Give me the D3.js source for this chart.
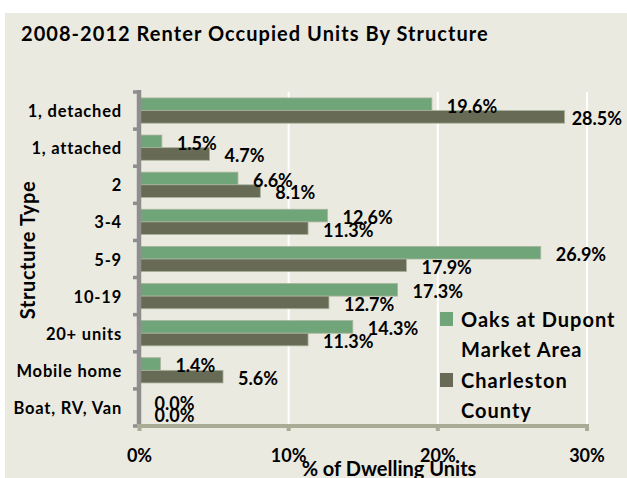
<!DOCTYPE html>
<html><head><meta charset="utf-8">
<script src="https://cdn.jsdelivr.net/npm/d3@7"></script>
<style>
body{margin:0;background:#fff}
svg{display:block}
text{font-family:Lato,"Open Sans",sans-serif;font-weight:bold;fill:#000}
</style></head>
<body><svg id="c" width="627" height="478"></svg>
<script>
const title = "2008-2012 Renter Occupied Units By Structure";
const categories = ["1, detached","1, attached","2","3-4","5-9","10-19","20+ units","Mobile home","Boat, RV, Van"];
const seriesNames = ["Oaks at Dupont Market Area","Charleston County"];
const legendLines = [["Oaks at Dupont","Market Area"],["Charleston","County"]];
const oaksValues = [19.6,1.5,6.6,12.6,26.9,17.3,14.3,1.4,0.0];
const charlestonValues = [28.5,4.7,8.1,11.3,17.9,12.7,11.3,5.6,0.0];
const xTicks = [0,10,20,30];
const xTitle = "% of Dwelling Units";
const yTitle = "Structure Type";

const colors = ["#70a57a","#676a54"];
const svg = d3.select("#c");
const W = 627, H = 478;

svg.append("rect").attr("x",0).attr("y",0).attr("width",W).attr("height",H).attr("fill","#fff");
svg.append("rect").attr("x",5).attr("y",13).attr("width",W-5).attr("height",H-13).attr("fill","#ebeae1");

const x = d3.scaleLinear().domain([0,30]).range([139.5,587]);
const y = d3.scaleBand().domain(categories).range([92,426]).paddingInner(0.32).paddingOuter(0.16);
const ySub = d3.scaleBand().domain([0,1]).range([0,y.bandwidth()]);

// title
svg.append("text").attr("x",21).attr("y",40.5).attr("font-size",20).attr("letter-spacing",1.05).text(title);

// gridlines
svg.append("g").selectAll("line").data(xTicks.filter(d=>d>0)).join("line")
  .attr("x1",d=>x(d)).attr("x2",d=>x(d)).attr("y1",92).attr("y2",426)
  .attr("stroke","#fff").attr("stroke-width",2);

// bars
const series = [oaksValues, charlestonValues];
series.forEach((vals,si)=>{
  svg.append("g").selectAll("rect").data(vals).join("rect")
    .attr("x",x(0)).attr("y",(d,i)=>y(categories[i])+ySub(si))
    .attr("width",d=>x(d)-x(0)).attr("height",ySub.bandwidth())
    .attr("fill",colors[si]).attr("stroke","#a9b49c").attr("stroke-width",0.8);
});

// axes
const yRange = y.range();
svg.append("line").attr("x1",139).attr("x2",139).attr("y1",yRange[0]-2).attr("y2",yRange[1]+2)
  .attr("stroke","#8e8e8e").attr("stroke-width",4.5);
const bounds = d3.range(categories.length+1).map(i=>yRange[0]+i*y.step());
svg.append("g").selectAll("line").data(bounds).join("line")
  .attr("x1",133).attr("x2",139).attr("y1",d=>d).attr("y2",d=>d)
  .attr("stroke","#8e8e8e").attr("stroke-width",3.5);

svg.append("line").attr("x1",137).attr("x2",x(30)+2).attr("y1",426).attr("y2",426)
  .attr("stroke","#a9ab94").attr("stroke-width",4);
svg.append("g").selectAll("line").data(xTicks).join("line")
  .attr("x1",d=>x(d)).attr("x2",d=>x(d)).attr("y1",426).attr("y2",431)
  .attr("stroke","#a9ab94").attr("stroke-width",4);

// tick labels
svg.append("g").selectAll("text").data(xTicks).join("text")
  .attr("x",d=>x(d)).attr("y",462).attr("text-anchor","middle").attr("font-size",18)
  .text(d=>d+"%");

// category labels
svg.append("g").selectAll("text").data(categories).join("text")
  .attr("x",122).attr("y",d=>y(d)+y.bandwidth()/2+6.5).attr("text-anchor","end")
  .attr("font-size",16.5).attr("letter-spacing",0.8).text(d=>d);

// value labels
series.forEach((vals,si)=>{
  svg.append("g").selectAll("text").data(vals).join("text")
    .attr("y",(d,i)=>y(categories[i])+ySub(si)+ySub.bandwidth()/2+2+6.4)
    .attr("font-size",18).text(d=>d.toFixed(1)+"%")
    .each(function(d){
      const w = this.getComputedTextLength();
      d3.select(this).attr("x", Math.min(x(d)+15, 622-w));
    });
});

// axis titles
svg.append("text").attr("x",389).attr("y",476).attr("text-anchor","middle").attr("font-size",20).text(xTitle);
svg.append("text").attr("transform","translate(35,250) rotate(-90)").attr("text-anchor","middle").attr("font-size",20).attr("letter-spacing",0.6).text(yTitle);

// legend
const lg = svg.append("g");
const legY = [312, 373];
legendLines.forEach((lines,si)=>{
  lg.append("rect").attr("x",440).attr("y",legY[si]).attr("width",13).attr("height",14).attr("fill",colors[si]);
  lines.forEach((t,li)=>{
    lg.append("text").attr("x",461).attr("y",legY[si]+14.5+li*30.5).attr("font-size",20)
      .attr("letter-spacing",1).text(t);
  });
});
</script></body></html>
